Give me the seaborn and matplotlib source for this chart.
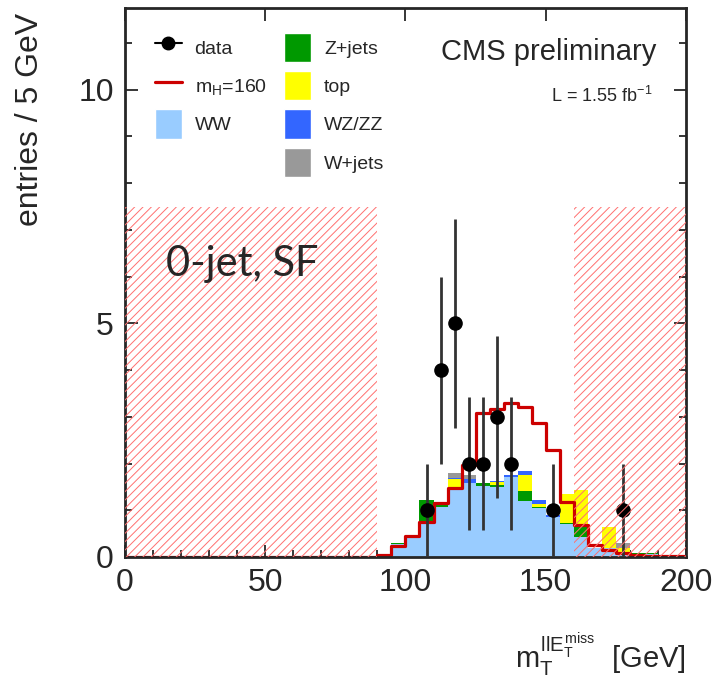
import numpy as np
import pandas as pd
import matplotlib.pyplot as plt
import seaborn as sns
from matplotlib.ticker import MultipleLocator
from matplotlib.lines import Line2D
from matplotlib.patches import Patch

sns.set_style("ticks")
plt.rcParams['font.family'] = ['Liberation Sans', 'DejaVu Sans']
plt.rcParams['mathtext.fontset'] = 'custom'
plt.rcParams['mathtext.rm'] = 'Liberation Sans'
plt.rcParams['mathtext.it'] = 'Liberation Sans'
plt.rcParams['hatch.linewidth'] = 0.7

# 5 GeV bins from 0 to 200 GeV
edges = list(range(0, 205, 5))
centers = np.array(edges[:-1]) + 2.5

# bins 0-90 GeV are empty for every sample
pad = [0.0] * 18
ww = pad + [0.00, 0.28, 0.42, 0.76, 1.08, 1.47, 1.58, 1.53, 1.50, 1.71, 1.20,
            1.04, 0.86, 0.70, 0.43, 0.20, 0.19, 0.08, 0.07, 0.06, 0.00, 0.00]
zjets = pad + [0.00, 0.03, 0.00, 0.46, 0.07, 0.03, 0.00, 0.05, 0.04, 0.00, 0.21,
               0.02, 0.00, 0.03, 0.22, 0.00, 0.00, 0.03, 0.02, 0.02, 0.00, 0.00]
top = pad + [0.00, 0.00, 0.00, 0.00, 0.00, 0.16, 0.00, 0.00, 0.06, 0.00, 0.35,
             0.07, 0.00, 0.61, 0.78, 0.00, 0.46, 0.08, 0.00, 0.00, 0.00, 0.00]
wzzz = pad + [0.00, 0.00, 0.00, 0.00, 0.00, 0.03, 0.08, 0.00, 0.03, 0.05, 0.08,
              0.08, 0.04, 0.00, 0.00, 0.00, 0.00, 0.00, 0.00, 0.00, 0.00, 0.00]
wjets = pad + [0.00, 0.00, 0.00, 0.00, 0.00, 0.10, 0.10, 0.00, 0.00, 0.00, 0.00,
               0.00, 0.00, 0.00, 0.00, 0.00, 0.00, 0.10, 0.00, 0.00, 0.00, 0.00]
higgs160 = pad + [0.04, 0.24, 0.45, 0.75, 1.15, 1.47, 1.97, 3.08, 3.16, 3.30, 3.20,
                  2.86, 2.28, 1.18, 0.685, 0.26, 0.15, 0.08, 0.04, 0.03, 0.02, 0.02]
data = np.array(pad + [0, 0, 0, 1, 4, 5, 2, 2, 3, 2, 0,
                       0, 1, 0, 0, 0, 0, 1, 0, 0, 0, 0])

# cut-away mass windows (hatched)
excl_lo = [0, 160]
excl_hi = [90, 200]
excl_top = 7.5

colors = {'WW': '#99ccff', 'Z+jets': '#009900', 'top': '#ffff00',
          'WZ/ZZ': '#3366ff', 'W+jets': '#999999'}
samples = {'WW': ww, 'Z+jets': zjets, 'top': top, 'WZ/ZZ': wzzz, 'W+jets': wjets}

bkg = pd.concat([pd.DataFrame({'mt': centers, 'weight': v, 'sample': k})
                 for k, v in samples.items()], ignore_index=True)

fig = plt.figure(figsize=(7.17, 6.79), dpi=100)
ax = fig.add_axes([0.1743, 0.1797, 0.7824, 0.8085])

# seaborn stacks the last hue level at the bottom
sns.histplot(data=bkg, x='mt', weights='weight', hue='sample',
             hue_order=list(samples)[::-1], palette=colors, bins=edges,
             multiple='stack', element='step', fill=True, alpha=1,
             linewidth=0, legend=False, ax=ax)

sns.histplot(x=centers, weights=higgs160, bins=edges, element='step',
             fill=False, color='#cc0000', linewidth=2.3, ax=ax)

sel = data > 0
ax.errorbar(centers[sel], data[sel], yerr=np.sqrt(data[sel]), fmt='o',
            color='black', ecolor='#333333', elinewidth=2, markersize=9.5,
            capsize=0, zorder=5)

for lo, hi in zip(excl_lo, excl_hi):
    ax.fill_between([lo, hi], 0, excl_top, facecolor='none', edgecolor='#ff7070',
                    hatch='////', linewidth=0, zorder=10)

ax.set_xlim(0, 200)
ax.set_ylim(0, 11.75)
ax.xaxis.set_major_locator(MultipleLocator(50))
ax.xaxis.set_minor_locator(MultipleLocator(10))
ax.yaxis.set_major_locator(MultipleLocator(5))
ax.yaxis.set_minor_locator(MultipleLocator(1))
ax.tick_params(which='both', direction='in', top=True, right=True, width=1.3)
ax.tick_params(which='major', length=9, labelsize=23, pad=8)
ax.tick_params(which='minor', length=5, top=False)
for s in ax.spines.values():
    s.set_linewidth(2)

ax.set_xlabel(r'$m_{T}^{llE_{T}^{miss}}$  [GeV]', fontsize=21, loc='right')
ax.xaxis.set_label_coords(1.0, -0.137)
ax.set_ylabel('entries / 5 GeV', fontsize=23, loc='top')
ax.yaxis.set_label_coords(-0.143, 0.991)

ax.text(0.948, 0.92, 'CMS preliminary', transform=ax.transAxes,
        ha='right', va='center', fontsize=21)
ax.text(0.941, 0.84, r'L = 1.55 fb$^{-1}$', transform=ax.transAxes,
        ha='right', va='center', fontsize=13)
ax.text(0.073, 0.534, '0-jet, SF', transform=ax.transAxes, family='Lato',
        ha='left', va='center', fontsize=30, zorder=11)

handles = [Line2D([], [], color='black', marker='o', markersize=9, lw=1.5),
           Line2D([], [], color='#cc0000', lw=2.3),
           Patch(facecolor=colors['WW']),
           Patch(facecolor='none', edgecolor='none'),
           Patch(facecolor=colors['Z+jets']),
           Patch(facecolor=colors['top']),
           Patch(facecolor=colors['WZ/ZZ']),
           Patch(facecolor=colors['W+jets'])]
labels = ['data', r'm$_\mathrm{H}$=160', 'WW', '', 'Z+jets', 'top', 'WZ/ZZ', 'W+jets']
ax.legend(handles, labels, ncol=2, loc='upper left', bbox_to_anchor=(0.053, 0.955),
          frameon=False, fontsize=14, handlelength=1.4, handleheight=1.95,
          handletextpad=0.65, labelspacing=0.46, columnspacing=0.9,
          borderpad=0, borderaxespad=0)

fig.savefig('out.png', dpi=100)
